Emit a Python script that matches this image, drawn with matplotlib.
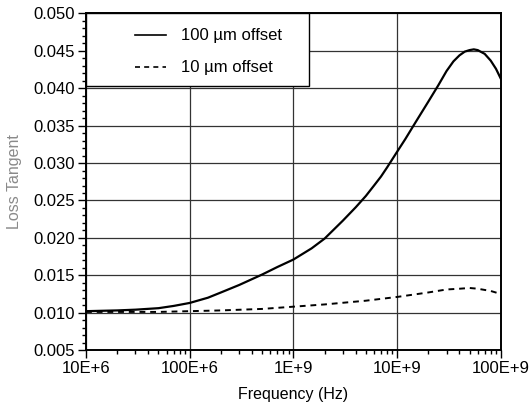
import numpy as np
import matplotlib.pyplot as plt
from matplotlib.ticker import MultipleLocator, LogLocator, NullFormatter
from matplotlib.patches import Rectangle
from matplotlib.lines import Line2D

plt.rcParams['font.family'] = ['Liberation Sans', 'DejaVu Sans']

# Frequency (Hz) and loss tangent
freq_100 = [1e7, 2e7, 3e7, 5e7, 7e7, 1e8, 1.5e8, 2e8, 3e8, 5e8, 7e8, 1e9,
            1.5e9, 2e9, 3e9, 4e9, 5e9, 6e9, 7e9, 8e9, 1e10, 1.2e10, 1.5e10,
            2e10, 2.5e10, 3e10, 3.5e10, 4e10, 4.5e10, 5e10, 5.5e10, 6e10,
            7e10, 8e10, 9e10, 1e11]
tan_100 = [0.0102, 0.0103, 0.0104, 0.0106, 0.0109, 0.0113, 0.0120, 0.0127,
           0.0137, 0.0151, 0.0161, 0.0171, 0.0186, 0.0199, 0.0223, 0.0241,
           0.0256, 0.0270, 0.0282, 0.0294, 0.0315, 0.0332, 0.0354, 0.0382,
           0.0404, 0.0423, 0.0436, 0.0444, 0.0449, 0.0451, 0.0452, 0.0451,
           0.0446, 0.0437, 0.0426, 0.0413]

freq_10 = [1e7, 2e7, 5e7, 1e8, 2e8, 5e8, 1e9, 2e9, 5e9, 1e10, 2e10, 3e10,
           4e10, 5e10, 6e10, 8e10, 1e11]
tan_10 = [0.0101, 0.0101, 0.0101, 0.0102, 0.0103, 0.0105, 0.0108, 0.0111,
          0.0116, 0.0121, 0.0127, 0.0131, 0.0132, 0.0133, 0.0132, 0.0129,
          0.0125]

xticks = [1e7, 1e8, 1e9, 1e10, 1e11]
xtick_labels = ["10E+6", "100E+6", "1E+9", "10E+9", "100E+9"]

fig = plt.figure(figsize=(5.31, 4.08), dpi=100)
ax = fig.add_axes([0.162, 0.142, 0.781, 0.825])

ax.plot(freq_100, tan_100, color='black', lw=1.6, zorder=3)
ax.plot(freq_10, tan_10, color='black', lw=1.4, ls=(0, (3, 2.5)), zorder=3)

ax.set_xscale('log')
ax.set_xlim(1e7, 1e11)
ax.set_ylim(0.005, 0.050)
ax.set_xticks(xticks)
ax.set_xticklabels(xtick_labels)
ax.xaxis.set_minor_locator(LogLocator(base=10, subs=np.arange(2, 10)))
ax.xaxis.set_minor_formatter(NullFormatter())
ax.yaxis.set_major_locator(MultipleLocator(0.005))
ax.yaxis.set_minor_locator(MultipleLocator(0.001))
ax.yaxis.set_major_formatter(plt.FormatStrFormatter('%.3f'))

ax.tick_params(which='both', direction='out', top=False, right=False,
               labelsize=12, color='black', width=1.0)
ax.tick_params(which='major', length=6, pad=2)
ax.tick_params(which='minor', length=3)

ax.grid(True, which='major', color='#333333', lw=0.9)
for s in ax.spines.values():
    s.set_linewidth(1.4)
    s.set_color('black')

ax.set_xlabel("Frequency (Hz)", fontsize=11.5, labelpad=8)
fig.text(0.028, 0.555, "Loss Tangent", rotation=90, fontsize=11.5,
         color='#8a8a8a', ha='center', va='center')

# legend box drawn in axes coordinates
ax.add_patch(Rectangle((0, 0.785), 0.537, 0.215, transform=ax.transAxes,
                       facecolor='white', edgecolor='black', lw=1.0,
                       zorder=5, clip_on=False))
ax.add_line(Line2D([0.118, 0.192], [0.936, 0.936], transform=ax.transAxes,
                   color='black', lw=1.2, zorder=6))
ax.add_line(Line2D([0.118, 0.192], [0.840, 0.840], transform=ax.transAxes,
                   color='black', lw=1.2, ls=(0, (3, 2.5)), zorder=6))
ax.text(0.230, 0.936, "100 \u00b5m offset", transform=ax.transAxes,
        fontsize=12, va='center', zorder=7)
ax.text(0.230, 0.840, "10 \u00b5m offset", transform=ax.transAxes,
        fontsize=12, va='center', zorder=7)

fig.savefig("out.png", dpi=100)
